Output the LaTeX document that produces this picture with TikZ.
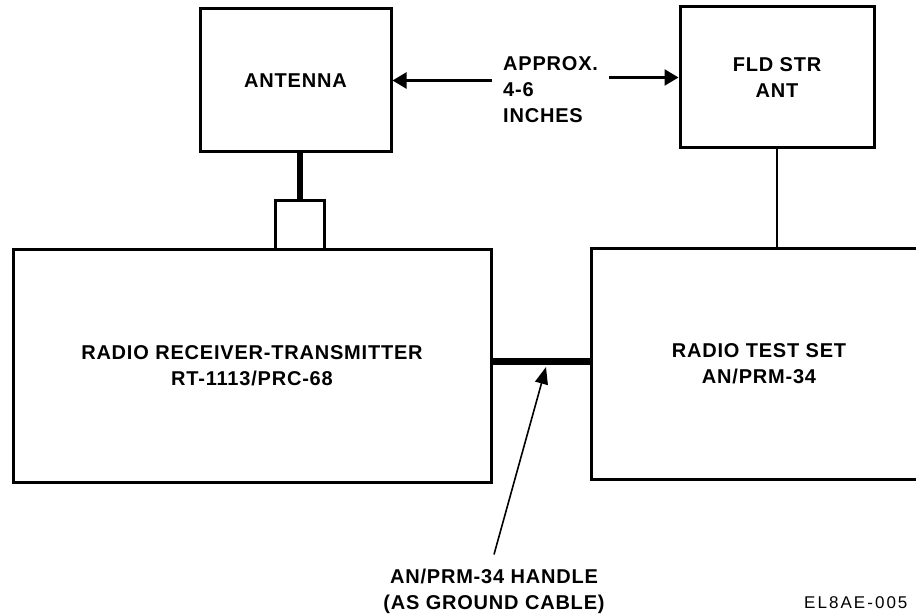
\documentclass[tikz,border=0pt]{standalone}
\usepackage{fontspec}
\setmainfont{Liberation Sans}[LetterSpace=4]
\usetikzlibrary{arrows.meta,calc,positioning}
\newcommand{\boxfont}{\fontsize{20}{26}\selectfont\bfseries}
\tikzset{
  >=Latex,
  unitbox/.style={draw,line width=3pt,inner sep=0pt,align=center,font=\boxfont},
  txtlabel/.style={inner sep=0pt,font=\boxfont},
  gaparrow/.style={-{Triangle[length=14pt,width=16pt]},line width=2.5pt},
  ptrarrow/.style={-{Triangle[length=17pt,width=13pt]},line width=1.6pt},
  mast/.style={line width=6pt},
  feedline/.style={line width=2pt},
  cable/.style={line width=6.5pt}
}
\begin{document}
\begin{tikzpicture}[x=1pt,y=-1pt,line join=miter]
  \useasboundingbox (0,0) rectangle (916,615);
  \clip (0,0) rectangle (916,615);
  % Antennas
  \node[unitbox,minimum width=191,minimum height=143] (ant) at (295.5,80.5) {ANTENNA};
  \node[unitbox,minimum width=194,minimum height=141] (fld) at (777,77.5) {FLD STR\\ANT};
  \node[txtlabel,align=left,anchor=west,inner xsep=11pt] (approx) at (492,90)
    {APPROX.\\4-6\\INCHES};
  \draw[gaparrow] (approx.west |- ant.east) -- (ant.east);
  \draw[gaparrow] (approx.east |- fld.west) -- (fld.west);

  % Sets
  \node[unitbox,minimum width=49,minimum height=49] (plug) at (299.5,224.5) {};
  \node[unitbox,minimum width=478,minimum height=233] (rt) at (252,365.5)
    {RADIO RECEIVER-TRANSMITTER\\RT-1113/PRC-68};
  \node[unitbox,minimum width=336,minimum height=231] (test) at (759,363.5)
    {RADIO TEST SET\\AN/PRM-34};
  \draw[mast] (ant.south -| plug.north) -- (plug.north);
  \draw[feedline] (fld.south) -- (fld.south |- test.north);
  \draw[cable] ([yshift=4pt]rt.east) -- ([yshift=4pt]rt.east -| test.west);

  % Handle
  \coordinate (handletip) at (546,367);
  \node[txtlabel,align=center] (handle) at (494,591)
    {AN/PRM-34 HANDLE\\(AS GROUND CABLE)};
  \draw[ptrarrow] ([yshift=14pt]handle.north) -- (handletip);

  \node[anchor=west,inner sep=0pt,font={\fontsize{17}{20}\selectfont\addfontfeatures{LetterSpace=12}}]
    (figcode) at (804,603) {EL8AE-005};
\end{tikzpicture}
\end{document}
